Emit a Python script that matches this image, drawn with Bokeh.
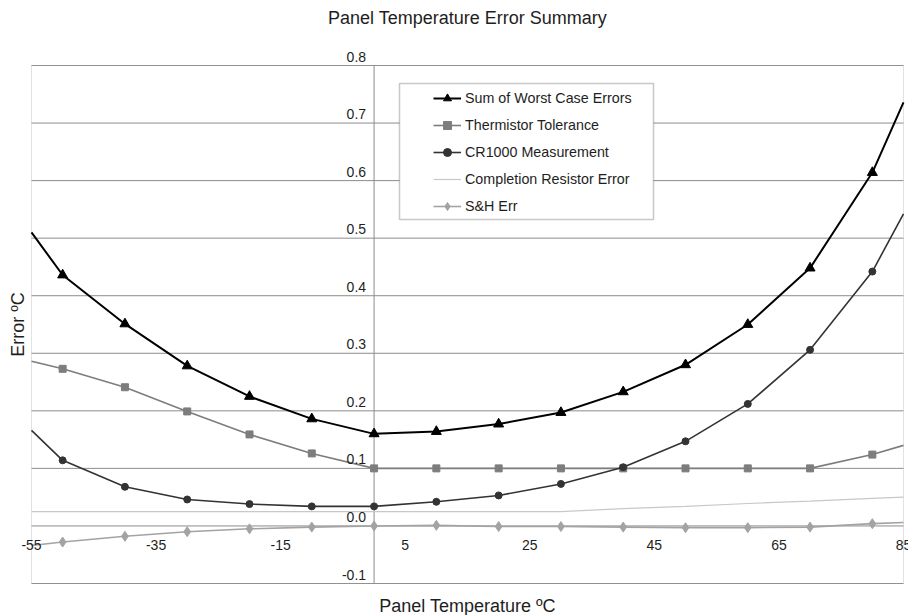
import math
from bokeh.plotting import figure
from bokeh.models import (Range1d, Label, LabelSet, ColumnDataSource,
                          Legend, LegendItem, BoxAnnotation)
from bokeh.core.properties import value
from bokeh.embed import file_html
from bokeh.resources import INLINE

# ---------------- data ----------------
TEMP = [-55, -50, -40, -30, -20, -10, 0, 10, 20, 30, 40, 50, 60, 70, 80, 85]
SUM_WORST = [0.510, 0.436, 0.351, 0.278, 0.225, 0.186, 0.160, 0.164, 0.177, 0.197,
             0.233, 0.280, 0.350, 0.448, 0.614, 0.736]
THERMISTOR = [0.286, 0.273, 0.241, 0.199, 0.159, 0.126, 0.100, 0.100, 0.100, 0.100,
              0.100, 0.100, 0.100, 0.100, 0.124, 0.140]
CR1000 = [0.166, 0.114, 0.068, 0.046, 0.038, 0.034, 0.034, 0.042, 0.053, 0.073,
          0.102, 0.147, 0.212, 0.306, 0.442, 0.542]
COMPLETION = [0.025, 0.025, 0.025, 0.025, 0.025, 0.025, 0.025, 0.025, 0.025, 0.025,
              0.030, 0.034, 0.039, 0.043, 0.048, 0.050]
SH_ERR = [-0.034, -0.028, -0.018, -0.010, -0.005, -0.002, 0.000, 0.001, -0.001, -0.001,
          -0.002, -0.003, -0.003, -0.002, 0.004, 0.006]

X_MIN, X_MAX = -55, 85
Y_MIN, Y_MAX = -0.1, 0.8
X_TICKS = [-55, -35, -15, 5, 25, 45, 65, 85]
X_TICK_LABELS = ["-55", "-35", "-15", "5", "25", "45", "65", "85"]
Y_TICKS = [-0.1, 0.0, 0.1, 0.2, 0.3, 0.4, 0.5, 0.6, 0.7, 0.8]
Y_TICK_LABELS = ["-0.1", "0.0", "0.1", "0.2", "0.3", "0.4", "0.5", "0.6", "0.7", "0.8"]

TITLE = "Panel Temperature Error Summary"
X_LABEL = "Panel Temperature ºC"
Y_LABEL = "Error ºC"

FONT = "Liberation Sans"
TEXT_COLOR = "#1e1e1e"
GRID_COLOR = "#8c8c8c"
FRAME_COLOR = "#a0a0a0"

# ---------------- layout (pixels) ----------------
W, H = 908, 615
PLOT_L, PLOT_R, PLOT_T, PLOT_B = 31, 903, 65, 583   # plot-area box on the canvas

# The Bokeh frame covers the whole canvas, so the crossing axes' labels are
# never clipped; the visible plot box is drawn at the data limits.
xs = (PLOT_R - PLOT_L) / (X_MAX - X_MIN)
ys = (PLOT_B - PLOT_T) / (Y_MAX - Y_MIN)
x_range = Range1d(X_MIN - PLOT_L / xs, X_MAX + (W - PLOT_R) / xs)
y_range = Range1d(Y_MIN - (H - PLOT_B) / ys, Y_MAX + PLOT_T / ys)

p = figure(width=W, height=H, output_backend="svg", toolbar_location=None,
           x_range=x_range, y_range=y_range,
           x_axis_location=None, y_axis_location=None, min_border=0)
p.outline_line_color = None
p.background_fill_color = "white"
p.border_fill_color = "white"
p.xgrid.visible = False
p.ygrid.visible = False

# horizontal gridlines across the plot area and the vertical axis at x = 0
n = len(Y_TICKS)
p.segment(x0=[X_MIN] * n, x1=[X_MAX] * n, y0=Y_TICKS, y1=Y_TICKS,
          line_color=GRID_COLOR, line_width=1, level="underlay")
p.segment(x0=[0], x1=[0], y0=[Y_MIN], y1=[Y_MAX],
          line_color=GRID_COLOR, line_width=1, level="underlay")
p.add_layout(BoxAnnotation(left=X_MIN, right=X_MAX, bottom=Y_MIN, top=Y_MAX,
                           fill_alpha=0, line_color=FRAME_COLOR, line_width=1,
                           level="underlay"))

# tick labels along the crossing axes
ysrc = ColumnDataSource(dict(x=[0] * n, y=Y_TICKS, t=Y_TICK_LABELS))
p.add_layout(LabelSet(x="x", y="y", text="t", source=ysrc, text_align="right",
                      text_baseline="bottom", x_offset=-8, y_offset=4,
                      text_font=value(FONT), text_font_size=value("14px"),
                      text_color=TEXT_COLOR))
xsrc = ColumnDataSource(dict(x=X_TICKS, y=[0] * len(X_TICKS), t=X_TICK_LABELS))
p.add_layout(LabelSet(x="x", y="y", text="t", source=xsrc, text_align="center",
                      text_baseline="middle", y_offset=-19,
                      text_font=value(FONT), text_font_size=value("14px"),
                      text_color=TEXT_COLOR))

# titles
cx = (PLOT_L + PLOT_R) / 2
cy = (PLOT_T + PLOT_B) / 2
p.add_layout(Label(x=cx, y=17, x_units="canvas", y_units="canvas", text=TITLE,
                   text_align="center", text_baseline="middle", text_font=FONT,
                   text_font_size="18px", text_color=TEXT_COLOR))
p.add_layout(Label(x=cx, y=605, x_units="canvas", y_units="canvas", text=X_LABEL,
                   text_align="center", text_baseline="middle", text_font=FONT,
                   text_font_size="18px", text_color=TEXT_COLOR))
p.add_layout(Label(x=17, y=cy, x_units="canvas", y_units="canvas", text=Y_LABEL,
                   angle=math.pi / 2, text_align="center", text_baseline="middle",
                   text_font=FONT, text_font_size="18px", text_color=TEXT_COLOR))

# series
MX = TEMP[1:-1]
r1l = p.line(TEMP, SUM_WORST, line_color="#000000", line_width=2)
r1m = p.scatter(MX, SUM_WORST[1:-1], marker="triangle", size=10, color="#000000")
r2l = p.line(TEMP, THERMISTOR, line_color="#7d7d7d", line_width=1.6)
r2m = p.scatter(MX, THERMISTOR[1:-1], marker="square", size=7, color="#7d7d7d")
r3l = p.line(TEMP, CR1000, line_color="#333333", line_width=1.6)
r3m = p.scatter(MX, CR1000[1:-1], marker="circle", size=7, color="#333333")
r4l = p.line(TEMP, COMPLETION, line_color="#c8c8c8", line_width=1.2)
r5l = p.line(TEMP, SH_ERR, line_color="#a3a3a3", line_width=1.6)
r5m = p.scatter(MX, SH_ERR[1:-1], marker="diamond", size=10, color="#a3a3a3")

# legend frame
p.add_layout(BoxAnnotation(left=399, right=653, top=83, bottom=219,
                           left_units="canvas", right_units="canvas",
                           top_units="canvas", bottom_units="canvas",
                           fill_color="white", fill_alpha=1.0,
                           line_color="#4a4a4a", line_width=1.5))

legend = Legend(items=[
    LegendItem(label="Sum of Worst Case Errors", renderers=[r1l, r1m]),
    LegendItem(label="Thermistor Tolerance", renderers=[r2l, r2m]),
    LegendItem(label="CR1000 Measurement", renderers=[r3l, r3m]),
    LegendItem(label="Completion Resistor Error", renderers=[r4l]),
    LegendItem(label="S&H Err", renderers=[r5l, r5m]),
], location=(433, 399), padding=0, margin=0, spacing=7,
    glyph_width=28, glyph_height=20, label_height=20, label_standoff=4,
    label_text_font=FONT, label_text_font_size="14.3px", label_text_color=TEXT_COLOR,
    border_line_alpha=0, background_fill_alpha=0)
p.add_layout(legend)

open("out.html", "w").write(file_html(p, INLINE))
